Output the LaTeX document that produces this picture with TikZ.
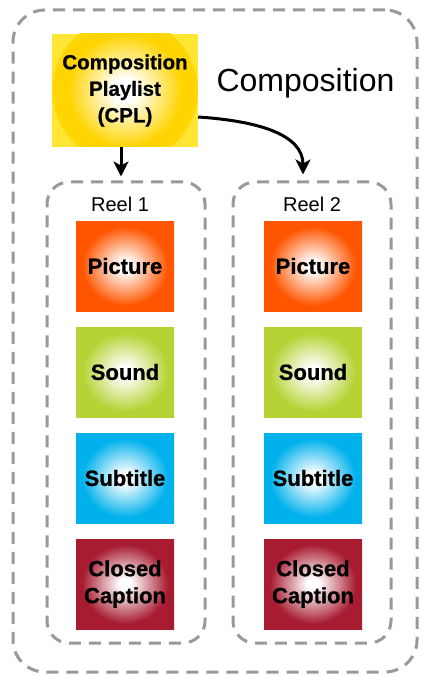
\documentclass[tikz,border=0pt]{standalone}
\usepackage{fontspec}
\setmainfont{Liberation Sans}
\newfontfamily\heavyfont{Liberation Sans}[BoldFeatures={FakeBold=0.8}]
\usetikzlibrary{arrows.meta}

% palette
\definecolor{framegray}{HTML}{999999}
\definecolor{cplgold}{HTML}{FFD400}
\definecolor{cplrim}{HTML}{FFE633}
\definecolor{picorange}{HTML}{FF5500}
\definecolor{soundlime}{HTML}{B5D334}
\definecolor{subcyan}{HTML}{00B1EC}
\definecolor{ccred}{HTML}{A71C30}

% glowing fills: white centre fading into the track colour
% (25bp is the half width of the shaded box)
\pgfdeclareradialshading{glowpic}{\pgfpoint{0bp}{0bp}}{color(0bp)=(white); color(3bp)=(white); color(22bp)=(picorange); color(50bp)=(picorange)}
\pgfdeclareradialshading{glowsound}{\pgfpoint{0bp}{0bp}}{color(0bp)=(white); color(3bp)=(white); color(22bp)=(soundlime); color(50bp)=(soundlime)}
\pgfdeclareradialshading{glowsub}{\pgfpoint{0bp}{0bp}}{color(0bp)=(white); color(3bp)=(white); color(22bp)=(subcyan); color(50bp)=(subcyan)}
\pgfdeclareradialshading{glowcc}{\pgfpoint{0bp}{0bp}}{color(0bp)=(white); color(3bp)=(white); color(22bp)=(ccred); color(50bp)=(ccred)}
\pgfdeclareradialshading{glowcpl}{\pgfpoint{0bp}{0bp}}{color(0bp)=(white); color(4bp)=(white); color(19.5bp)=(cplgold); color(23.5bp)=(cplgold); color(25bp)=(cplgold!70!cplrim); color(50bp)=(cplgold!70!cplrim)}

\begin{document}
\begin{tikzpicture}[x=1pt,y=-1pt,
  frame/.style={draw=framegray, line width=3pt, dash pattern=on 12pt off 8pt},
  trackbox/.style={minimum width=98pt, minimum height=90pt, inner sep=0pt, align=center,
    font=\fontsize{22}{27}\selectfont\heavyfont\bfseries},
  reellabel/.style={font=\fontsize{20}{24}\selectfont, inner sep=0pt},
  link/.style={line width=3pt, -{Stealth[length=15pt,width=15pt,inset=4pt]}}]
\useasboundingbox (0,0) rectangle (421,676);

% composition frame and its title
\node[frame, rounded corners=32pt, minimum width=404pt, minimum height=662pt] (comp) at (215,341) {};
\node[font=\fontsize{32}{36}\selectfont, inner sep=0pt] (comptitle) at (305.5,83) {Composition};

% composition playlist
\node[fill=cplrim, minimum width=146pt, minimum height=113pt, inner sep=0pt, align=center,
  font=\fontsize{20.5}{26.5}\selectfont\heavyfont\bfseries,
  path picture={\shade[shading=glowcpl] (path picture bounding box.center) circle (73pt);}]
  (cpl) at (125,90.5) {Composition\\Playlist\\(CPL)};

% reels
\node[frame, rounded corners=22pt, minimum width=158pt, minimum height=461pt] (reel1) at (126,412.5) {};
\node[frame, rounded corners=22pt, minimum width=158pt, minimum height=461pt] (reel2) at (312,412.5) {};
\node[reellabel] (reel1label) at (120,204) {Reel 1};
\node[reellabel] (reel2label) at (312,204) {Reel 2};

% track files of reel 1
\node[trackbox, shading=glowpic] (pic1) at (125,266) {Picture};
\node[trackbox, shading=glowsound] (snd1) at (125,372) {Sound};
\node[trackbox, shading=glowsub] (sub1) at (125,478) {Subtitle};
\node[trackbox, shading=glowcc] (cc1) at (125,584) {Closed\\Caption};

% track files of reel 2
\node[trackbox, shading=glowpic] (pic2) at (313,266) {Picture};
\node[trackbox, shading=glowsound] (snd2) at (313,372) {Sound};
\node[trackbox, shading=glowsub] (sub2) at (313,478) {Subtitle};
\node[trackbox, shading=glowcc] (cc2) at (313,584) {Closed\\Caption};

% playlist references to the reels
\draw[link] ([xshift=-4pt]cpl.south) -- ([xshift=-5pt,yshift=4pt]reel1.north);
\draw[link] ([yshift=-26.5pt]cpl.east) .. controls +(60pt,-4pt) and +(0pt,40pt) .. ([xshift=-9pt,yshift=6pt]reel2.north);
\end{tikzpicture}
\end{document}
